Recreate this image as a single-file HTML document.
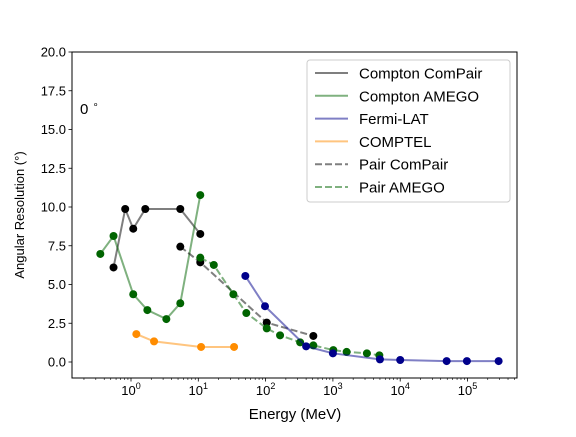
<!DOCTYPE html>
<html><head><meta charset="utf-8"><style>
body{margin:0;background:#fff;}
svg text{font-family:"Liberation Sans",sans-serif;fill:#000;}
</style></head><body>
<svg id="chart" width="576" height="432" xmlns="http://www.w3.org/2000/svg"></svg>
<script>
const xTicks=[0,1,2,3,4,5];
const yTicks=[0,2.5,5,7.5,10,12.5,15,17.5,20];
const comptonComPairE=[0.55,0.82,1.08,1.63,5.4,10.7];
const comptonComPairR=[6.1,9.87,8.6,9.87,9.87,8.26];
const comptonAmegoE=[0.35,0.55,1.08,1.75,3.35,5.4,10.7];
const comptonAmegoR=[6.97,8.13,4.37,3.35,2.77,3.79,10.77];
const fermiE=[50,98,400,1000,5000,10000,49000,98000,290000];
const fermiR=[5.55,3.6,1.01,0.56,0.17,0.13,0.06,0.06,0.06];
const comptelE=[1.2,2.2,11,34];
const comptelR=[1.8,1.33,0.97,0.97];
const pairComPairE=[5.4,10.7,104,512];
const pairComPairR=[7.44,6.43,2.54,1.68];
const pairAmegoE=[10.7,17,33.2,51.7,104,164,326,512,1014,1600,3200,4900];
const pairAmegoR=[6.73,6.26,4.37,3.16,2.17,1.72,1.27,1.07,0.77,0.65,0.56,0.43];

const svg=document.getElementById('chart');
const NS='http://www.w3.org/2000/svg';
const L=72,R=517,T=52,B=378;
const X0=131,DEC=67.3;
function sx(e){return X0+Math.log10(e)*DEC;}
function sy(v){return 362-v*15.5;}
function mk(tag,attrs,parent){const el=document.createElementNS(NS,tag);for(const k in attrs)el.setAttribute(k,attrs[k]);(parent||svg).appendChild(el);return el;}

const frame=mk('rect',{x:L,y:T,width:R-L,height:B-T,fill:'none',stroke:'#000','stroke-width':1});



for(let d=-1;d<=5;d++){
  for(let m=1;m<10;m++){
    const x=X0+(d+Math.log10(m))*DEC;
    if(x<L||x>R)continue;
    const len=m===1?3.5:2;
    mk('line',{x1:x,x2:x,y1:B,y2:B+len,stroke:'#000','stroke-width':m===1?0.8:0.6});
  }
}
xTicks.forEach(p=>{
  const t=mk('text',{x:X0+p*DEC,y:B+17,'text-anchor':'middle','font-size':13});
  
  
  t.innerHTML='10<tspan dy="-6" font-size="9">'+p+'</tspan>';
});
yTicks.forEach(v=>{
  mk('line',{x1:L-3.5,x2:L,y1:sy(v),y2:sy(v),stroke:'#000','stroke-width':0.8});
  const t=mk('text',{x:L-6,y:sy(v)+4.5,'text-anchor':'end','font-size':13});
  
  
  t.textContent=v.toFixed(1);
});
const xl=mk('text',{x:295,y:419,'text-anchor':'middle','font-size':15});


xl.textContent='Energy (MeV)';
const yl=mk('text',{x:0,y:0,'text-anchor':'middle','font-size':13,transform:'translate(24,215) rotate(-90)'});


yl.textContent='Angular Resolution (°)';
const ang=mk('text',{x:80,y:114,'font-size':15});


ang.innerHTML='0 <tspan dy="-6" font-size="10">∘</tspan>';

function series(name,E,Rv,color,dotColor,dash){
  const g=mk('g',{});
  
  
  const pts=E.map((e,i)=>sx(e)+','+sy(Rv[i])).join(' ');
  const attrs={points:pts,fill:'none',stroke:color,'stroke-width':2,'stroke-opacity':0.5};
  if(dash)attrs['stroke-dasharray']='7,3';
  mk('polyline',attrs,g);
  E.forEach((e,i)=>{
    const c=mk('circle',{cx:sx(e),cy:sy(Rv[i]),r:4,fill:dotColor},g);
    
    
  });
}
series('compton-compair',comptonComPairE,comptonComPairR,'#000','#000',false);
series('compton-amego',comptonAmegoE,comptonAmegoR,'#006400','#006400',false);
series('pair-compair',pairComPairE,pairComPairR,'#000','#000',true);
series('pair-amego',pairAmegoE,pairAmegoR,'#006400','#006400',true);
series('fermi-lat',fermiE,fermiR,'#00008b','#00008b',false);
series('comptel',comptelE,comptelR,'#ff8c00','#ff8c00',false);

const lg=mk('g',{});


mk('rect',{x:307,y:60,width:203,height:142,rx:3,fill:'#fff','fill-opacity':0.8,stroke:'#ccc'},lg);
const entries=[['Compton ComPair','#000',false],['Compton AMEGO','#006400',false],['Fermi-LAT','#00008b',false],['COMPTEL','#ff8c00',false],['Pair ComPair','#000',true],['Pair AMEGO','#006400',true]];
entries.forEach((en,i)=>{
  const y=73+i*22.8;
  const a={x1:315,x2:348,y1:y,y2:y,stroke:en[1],'stroke-width':2,'stroke-opacity':0.5};
  if(en[2])a['stroke-dasharray']='7,3';
  mk('line',a,lg);
  const t=mk('text',{x:359,y:y+5.5,'font-size':15},lg);
  
  
  t.textContent=en[0];
});
</script>
</body></html>
